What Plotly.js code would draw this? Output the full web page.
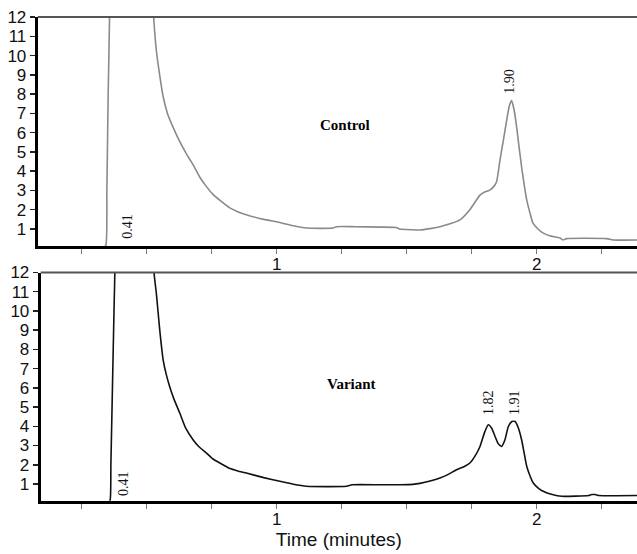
<!DOCTYPE html>
<html>
<head>
<meta charset="utf-8">
<script src="https://cdn.plot.ly/plotly-3.0.1.min.js"></script>
<style>
  html, body { margin: 0; padding: 0; background: #ffffff; }
  #chart { width: 637px; height: 554px; }
</style>
</head>
<body>
<div id="chart"></div>
<script>
// ---- Data ----
var controlTime = [0.330, 0.343, 0.347, 0.352, 0.358, 0.380, 0.410, 0.450, 0.500, 0.527, 0.537, 0.550, 0.563, 0.580, 0.601, 0.625, 0.653, 0.680, 0.704, 0.730, 0.755, 0.781, 0.820, 0.850, 0.883, 0.950, 1.012, 1.060, 1.115, 1.217, 1.230, 1.300, 1.400, 1.460, 1.473, 1.523, 1.551, 1.590, 1.628, 1.670, 1.705, 1.743, 1.782, 1.800, 1.820, 1.835, 1.846, 1.859, 1.872, 1.885, 1.895, 1.904, 1.913, 1.923, 1.932, 1.942, 1.952, 1.962, 1.975, 1.986, 2.005, 2.024, 2.050, 2.090, 2.101, 2.115, 2.269, 2.294, 2.400];
var controlSignal = [0.00, 0.15, 3.0, 8.0, 12.5, 40, 60, 40, 20, 12.0, 10.3, 9.0, 7.9, 7.0, 6.3, 5.6, 4.9, 4.3, 3.7, 3.2, 2.8, 2.5, 2.1, 1.9, 1.74, 1.5, 1.34, 1.18, 1.05, 1.05, 1.12, 1.12, 1.10, 1.08, 1.00, 0.96, 0.95, 1.02, 1.12, 1.28, 1.47, 2.0, 2.76, 2.92, 3.02, 3.2, 3.45, 4.58, 5.6, 6.66, 7.4, 7.66, 7.2, 6.3, 5.3, 4.23, 3.3, 2.5, 1.8, 1.3, 1.0, 0.8, 0.65, 0.53, 0.43, 0.50, 0.50, 0.43, 0.43];

var variantTime = [0.350, 0.359, 0.362, 0.368, 0.374, 0.378, 0.400, 0.450, 0.500, 0.528, 0.537, 0.550, 0.563, 0.575, 0.588, 0.605, 0.627, 0.650, 0.678, 0.700, 0.730, 0.755, 0.781, 0.820, 0.850, 0.883, 0.950, 1.012, 1.060, 1.114, 1.268, 1.290, 1.400, 1.474, 1.524, 1.551, 1.590, 1.628, 1.660, 1.692, 1.720, 1.743, 1.765, 1.782, 1.800, 1.814, 1.827, 1.840, 1.852, 1.865, 1.878, 1.891, 1.905, 1.917, 1.930, 1.942, 1.952, 1.962, 1.975, 1.987, 2.005, 2.025, 2.060, 2.096, 2.200, 2.212, 2.225, 2.240, 2.400];
var variantSignal = [0.00, 0.15, 2.0, 6.0, 10.0, 12.5, 40, 60, 25, 12.0, 10.9, 9.0, 7.46, 6.7, 6.07, 5.4, 4.69, 3.9, 3.30, 2.95, 2.61, 2.3, 2.09, 1.8, 1.68, 1.57, 1.33, 1.14, 1.0, 0.88, 0.88, 0.96, 0.96, 0.96, 0.98, 1.03, 1.15, 1.31, 1.5, 1.74, 1.9, 2.09, 2.5, 2.95, 3.7, 4.08, 3.9, 3.47, 3.1, 2.95, 3.3, 3.99, 4.25, 4.25, 3.9, 3.3, 2.6, 1.91, 1.4, 1.05, 0.8, 0.62, 0.45, 0.36, 0.40, 0.45, 0.45, 0.40, 0.40];

var yTickVals = [1, 2, 3, 4, 5, 6, 7, 8, 9, 10, 11, 12];
var xTickVals = [1, 2];
var xTickText = ["1", "2"];

var controlPeakLabels = ["0.41", "1.90"];
var controlPeakX = [0.423, 1.895];
var controlPeakY = [1.15, 8.66];
var variantPeakLabels = ["0.41", "1.82", "1.91"];
var variantPeakX = [0.410, 1.814, 1.912];
var variantPeakY = [1.02, 5.23, 5.26];

var panelNames = ["Control", "Variant"];
var panelNameX = [1.263, 1.286];
var panelNameY = [6.40, 6.21];

var xTitle = "Time (minutes)";

// ---- Traces ----
var traces = [
  { x: controlTime, y: controlSignal, xaxis: 'x', yaxis: 'y', type: 'scatter', mode: 'lines',
    line: { color: '#8a8a8a', width: 1.6, shape: 'spline', smoothing: 0.5 }, hoverinfo: 'skip', showlegend: false },
  { x: variantTime, y: variantSignal, xaxis: 'x2', yaxis: 'y2', type: 'scatter', mode: 'lines',
    line: { color: '#111111', width: 1.6, shape: 'spline', smoothing: 0.5 }, hoverinfo: 'skip', showlegend: false }
];

var tickFont = { family: 'Liberation Sans, Arial, sans-serif', size: 17, color: '#111111' };

function yAxis(domain, lo, anchor) {
  return {
    domain: domain, range: [lo, 12], anchor: anchor,
    tickmode: 'array', tickvals: yTickVals,
    ticks: 'outside', ticklen: 5, tickwidth: 1.5, tickcolor: '#222222',
    tickfont: tickFont, ticklabelstandoff: 0,
    showline: true, linecolor: '#000000', linewidth: 3,
    showgrid: false, zeroline: false, fixedrange: true
  };
}
function xAxis(domain, lo, anchor) {
  return {
    domain: domain, range: [lo, 2.386], anchor: anchor,
    tickmode: 'array', tickvals: xTickVals, ticktext: xTickText,
    ticks: 'outside', ticklen: 5, tickwidth: 1, tickcolor: '#777777',
    tickfont: tickFont, ticklabelstandoff: -4,
    minor: { tickmode: 'linear', tick0: 0, dtick: 0.25, ticks: 'outside', ticklen: 5, tickwidth: 1, tickcolor: '#777777' },
    showline: true, linecolor: '#000000', linewidth: 3,
    showgrid: false, zeroline: false, fixedrange: true
  };
}

var annotations = [];
var serif = 'Liberation Serif, Times New Roman, serif';
for (var i = 0; i < controlPeakLabels.length; i++) {
  annotations.push({ xref: 'x', yref: 'y', x: controlPeakX[i], y: controlPeakY[i],
    text: controlPeakLabels[i], textangle: -90, showarrow: false,
    xanchor: 'center', yanchor: 'middle',
    font: { family: serif, size: 14, color: '#111111' } });
}
for (var j = 0; j < variantPeakLabels.length; j++) {
  annotations.push({ xref: 'x2', yref: 'y2', x: variantPeakX[j], y: variantPeakY[j],
    text: variantPeakLabels[j], textangle: -90, showarrow: false,
    xanchor: 'center', yanchor: 'middle',
    font: { family: serif, size: 14, color: '#111111' } });
}
annotations.push({ xref: 'x', yref: 'y', x: panelNameX[0], y: panelNameY[0], text: '<b>' + panelNames[0] + '</b>',
  showarrow: false, xanchor: 'center', yanchor: 'middle', font: { family: serif, size: 15, color: '#000000' } });
annotations.push({ xref: 'x2', yref: 'y2', x: panelNameX[1], y: panelNameY[1], text: '<b>' + panelNames[1] + '</b>',
  showarrow: false, xanchor: 'center', yanchor: 'middle', font: { family: serif, size: 15, color: '#000000' } });

var xTop = xAxis([0.0592, 1], 0.081, 'y');
var xBot = xAxis([0.0639, 1], 0.092, 'y2');
xBot.title = { text: xTitle, font: { family: 'Liberation Sans, Arial, sans-serif', size: 19, color: '#111111' }, standoff: 4 };

var layout = {
  width: 637, height: 554,
  margin: { l: 0, r: 0, t: 0, b: 0, pad: 0 },
  paper_bgcolor: '#ffffff', plot_bgcolor: '#ffffff',
  xaxis: xTop,
  yaxis: yAxis([0.5560, 0.9693], 0.12, 'x'),
  xaxis2: xBot,
  yaxis2: yAxis([0.0962, 0.5081], 0.13, 'x2'),
  annotations: annotations,
  shapes: [
    { type: 'line', xref: 'x domain', yref: 'y domain', x0: 0, x1: 1, y0: 1, y1: 1, line: { color: '#555555', width: 2 } },
    { type: 'line', xref: 'x2 domain', yref: 'y2 domain', x0: 0, x1: 1, y0: 1, y1: 1, line: { color: '#555555', width: 2 } }
  ],
  showlegend: false
};

Plotly.newPlot('chart', traces, layout, { displayModeBar: false, staticPlot: true });
</script>
</body>
</html>
